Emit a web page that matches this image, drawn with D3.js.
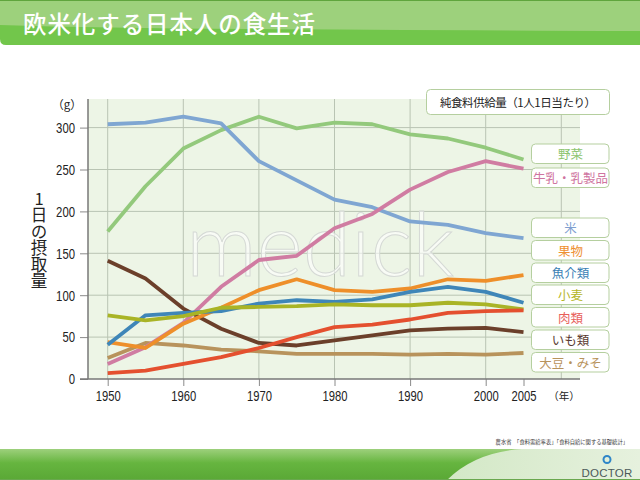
<!DOCTYPE html>
<html>
<head>
<meta charset="utf-8">
<script src="https://cdnjs.cloudflare.com/ajax/libs/d3/7.8.5/d3.min.js"></script>
<style>
html,body{margin:0;padding:0;background:#fff;overflow:hidden}
svg{display:block}
text{font-family:"Noto Sans CJK JP","Noto Sans",sans-serif}
.tick text{font-family:"Liberation Sans",sans-serif;font-size:15px;fill:#222}
</style>
</head>
<body>
<svg id="chart" width="640" height="480"></svg>
<script>
var years = [1950,1955,1960,1965,1970,1975,1980,1985,1990,1995,2000,2005];
var xTicks = [1950,1960,1970,1980,1990,2000,2005];
var xGrid = [1950,1960,1970,1980,1990,2000,2010];
var yTicks = [0,50,100,150,200,250,300];

var rice = [304,306,313,305,260,237,214,205,188,184,174,168];
var vegetables = [176,230,275,297,313,299,306,304,292,287,276,262];
var milk = [18,38,67,110,142,147,180,197,226,247,260,251];
var fruit = [44,37,66,85,106,119,106,104,108,119,117,124];
var fish = [41,76,79,81,90,94,92,95,104,110,104,91];
var wheat = [76,70,75,85,86,87,89,88,88,91,89,83];
var meat = [7,10,18,26,37,50,62,65,71,79,81,82];
var potato = [141,120,84,60,43,40,46,52,58,60,61,56];
var soy = [25,43,40,35,33,30,30,30,29,30,29,31];

//drawing order: the later ones are on top
var lines = [
	{values:vegetables, color:'#93c97c'},
	{values:rice, color:'#7fa6d2'},
	{values:soy, color:'#b8935c'},
	{values:potato, color:'#6b3f2a'},
	{values:milk, color:'#d07ca2'},
	{values:fruit, color:'#ee8f2a'},
	{values:fish, color:'#3f86b8'},
	{values:wheat, color:'#a9b426'},
	{values:meat, color:'#e4502f'}
];
var legendNames = ['野菜','牛乳・乳製品','米','果物','魚介類','小麦','肉類','いも類','大豆・みそ'];
var legendColors = ['#8cc46f','#cf74a0','#7f9fd0','#ee9030','#3b7fb5','#b5b526','#e8605a','#5a3a30','#b8935c'];
var legendTops = [144,168,218,240.5,263,285,307.5,330,352.5];

var svg = d3.select('#chart');
var defs = svg.append('defs');

var footGrad = defs.append('linearGradient').attr('id','footGrad').attr('x1',0).attr('x2',0).attr('y1',0).attr('y2',1);
footGrad.append('stop').attr('offset','0%').attr('stop-color','#9dd07c');
footGrad.append('stop').attr('offset','45%').attr('stop-color','#66b53f');
footGrad.append('stop').attr('offset','100%').attr('stop-color','#5aa836');
var paleGrad = defs.append('linearGradient').attr('id','paleGrad').attr('x1',0).attr('x2',1).attr('y1',0).attr('y2',0);
paleGrad.append('stop').attr('offset','0%').attr('stop-color','#d3e8c6');
paleGrad.append('stop').attr('offset','100%').attr('stop-color','#e6f1de');

//header band
svg.append('path').attr('d','M0,0H640V45H6Q0,45 0,39Z').attr('fill','#72c64b');
svg.append('path').attr('d','M0,1H640V31Q400,30 250,29T0,25Z').attr('fill','#9dd17c');
svg.append('rect').attr('width',640).attr('height',1).attr('fill','#5fa53d');
svg.append('text').attr('x',23).attr('y',33).attr('fill','#fff').attr('font-size',23.5)
	.attr('font-weight',500).attr('textLength',292).text('欧米化する日本人の食生活');

//plot area
var x = d3.scaleLinear().domain([1950,2000]).range([107.7,485.7]);
var y = d3.scaleLinear().domain([0,300]).range([379,127.6]);
var plotLeft = 88, plotRight = 580, plotTop = 99;

svg.append('rect').attr('x',plotLeft).attr('y',plotTop).attr('width',plotRight-plotLeft)
	.attr('height',y(0)-plotTop).attr('fill','#edf5e6');

svg.append('g').selectAll('line').data(xGrid).enter().append('line')
	.attr('x1',function(d){return x(d);}).attr('x2',function(d){return x(d);})
	.attr('y1',plotTop).attr('y2',y(0)).attr('stroke','#b9c4b3').attr('stroke-width',1);
svg.append('g').selectAll('line').data(yTicks.slice(1)).enter().append('line')
	.attr('x1',plotLeft).attr('x2',plotRight)
	.attr('y1',function(d){return y(d);}).attr('y2',function(d){return y(d);})
	.attr('stroke','#b9c4b3').attr('stroke-width',1);

//watermark
svg.append('text').attr('x',320).attr('y',276).attr('text-anchor','middle')
	.style('font-family','Lato,"Open Sans",sans-serif').attr('font-size',88).attr('font-weight',300)
	.attr('fill','#ffffff').attr('fill-opacity',0.6).attr('stroke','#d5d9d5').attr('stroke-width',1)
	.attr('textLength',268).attr('lengthAdjust','spacingAndGlyphs').text('medick');

//axes
var yAxis = d3.axisLeft(y).tickValues(yTicks).tickSize(8).tickPadding(5);
var gy = svg.append('g').attr('transform','translate('+plotLeft+',0)').call(yAxis);
gy.select('.domain').remove();
gy.selectAll('.tick line').attr('stroke','#8a8a8a').attr('stroke-width',1);
gy.selectAll('.tick text').attr('lengthAdjust','spacingAndGlyphs')
	.attr('textLength',function(d){return String(d).length*6.3;});
svg.append('line').attr('x1',plotLeft).attr('x2',plotLeft).attr('y1',plotTop).attr('y2',y(0))
	.attr('stroke','#777').attr('stroke-width',1.5);

var xAxis = d3.axisBottom(x).tickValues(xTicks).tickFormat(d3.format('d')).tickSize(7).tickPadding(4);
var gx = svg.append('g').attr('transform','translate(0,'+y(0)+')').call(xAxis);
gx.select('.domain').remove();
gx.selectAll('.tick line').attr('stroke','#8a8a8a');
gx.selectAll('.tick text').attr('lengthAdjust','spacingAndGlyphs').attr('textLength',25);
svg.append('line').attr('x1',80).attr('x2',plotRight).attr('y1',y(0)).attr('y2',y(0))
	.attr('stroke','#777').attr('stroke-width',1.5);

//series
var lineGen = d3.line().x(function(d,i){return x(years[i]);}).y(function(d){return y(d);});
svg.append('g').selectAll('path').data(lines).enter().append('path')
	.attr('d',function(d){return lineGen(d.values);})
	.attr('fill','none').attr('stroke',function(d){return d.color;})
	.attr('stroke-width',3.8).attr('stroke-linejoin','round');

//unit labels
svg.append('text').attr('x',67).attr('y',109).attr('text-anchor','middle').attr('font-size',11.5).attr('fill','#222').text('（g）');
svg.append('text').attr('x',564).attr('y',400).attr('text-anchor','middle').attr('font-size',10.5).attr('fill','#222').text('（年）');
svg.append('text').attr('transform','translate(39,190)').attr('font-size',16.5).attr('fill','#222')
	.style('writing-mode','vertical-rl').style('text-orientation','upright')
	.text('1日の摂取量');

//title box
svg.append('rect').attr('x',426.5).attr('y',89.5).attr('width',183).attr('height',25).attr('rx',4)
	.attr('fill','#fff').attr('stroke','#b5cf9f').attr('stroke-width',1);
svg.append('text').attr('x',518).attr('y',106.5).attr('text-anchor','middle').attr('font-size',11.5).attr('fill','#222')
	.attr('textLength',156).text('純食料供給量（1人1日当たり）');

//legend boxes
var legend = svg.append('g').selectAll('g').data(legendNames).enter().append('g')
	.attr('transform',function(d,i){return 'translate(531.5,'+legendTops[i]+')';});
legend.append('rect').attr('width',77.5).attr('height',19.5).attr('rx',4)
	.attr('fill','#fff').attr('stroke','#b5cf9f').attr('stroke-width',1);
legend.append('text').attr('x',39).attr('y',15).attr('text-anchor','middle')
	.attr('font-size',12.5)
	.attr('fill',function(d,i){return legendColors[i];}).text(function(d){return d;});

//source
svg.append('text').attr('x',628).attr('y',444).attr('text-anchor','end').attr('font-size',5.3).attr('fill','#333')
	.text('農水省　「食料需給率表」「食料自給に関する基礎統計」');

//footer band
svg.append('rect').attr('x',0).attr('y',449).attr('width',640).attr('height',31).attr('fill','url(#footGrad)');
svg.append('path').attr('d','M447,480Q475,452 522,449H640V480Z').attr('fill','url(#paleGrad)');
svg.append('rect').attr('x',0).attr('y',479).attr('width',640).attr('height',1).attr('fill','#6aa84f');

//logo
svg.append('circle').attr('cx',607).attr('cy',459.5).attr('r',3.5).attr('fill','none').attr('stroke','#2f86c8').attr('stroke-width',2);
svg.append('text').attr('x',607).attr('y',476.5).attr('text-anchor','middle').attr('font-size',11.5).attr('font-weight',500)
	.attr('fill','#4c5a5a').style('font-family','"Liberation Sans",sans-serif')
	.attr('letter-spacing',0.2).text('DOCTOR');
</script>
</body>
</html>
